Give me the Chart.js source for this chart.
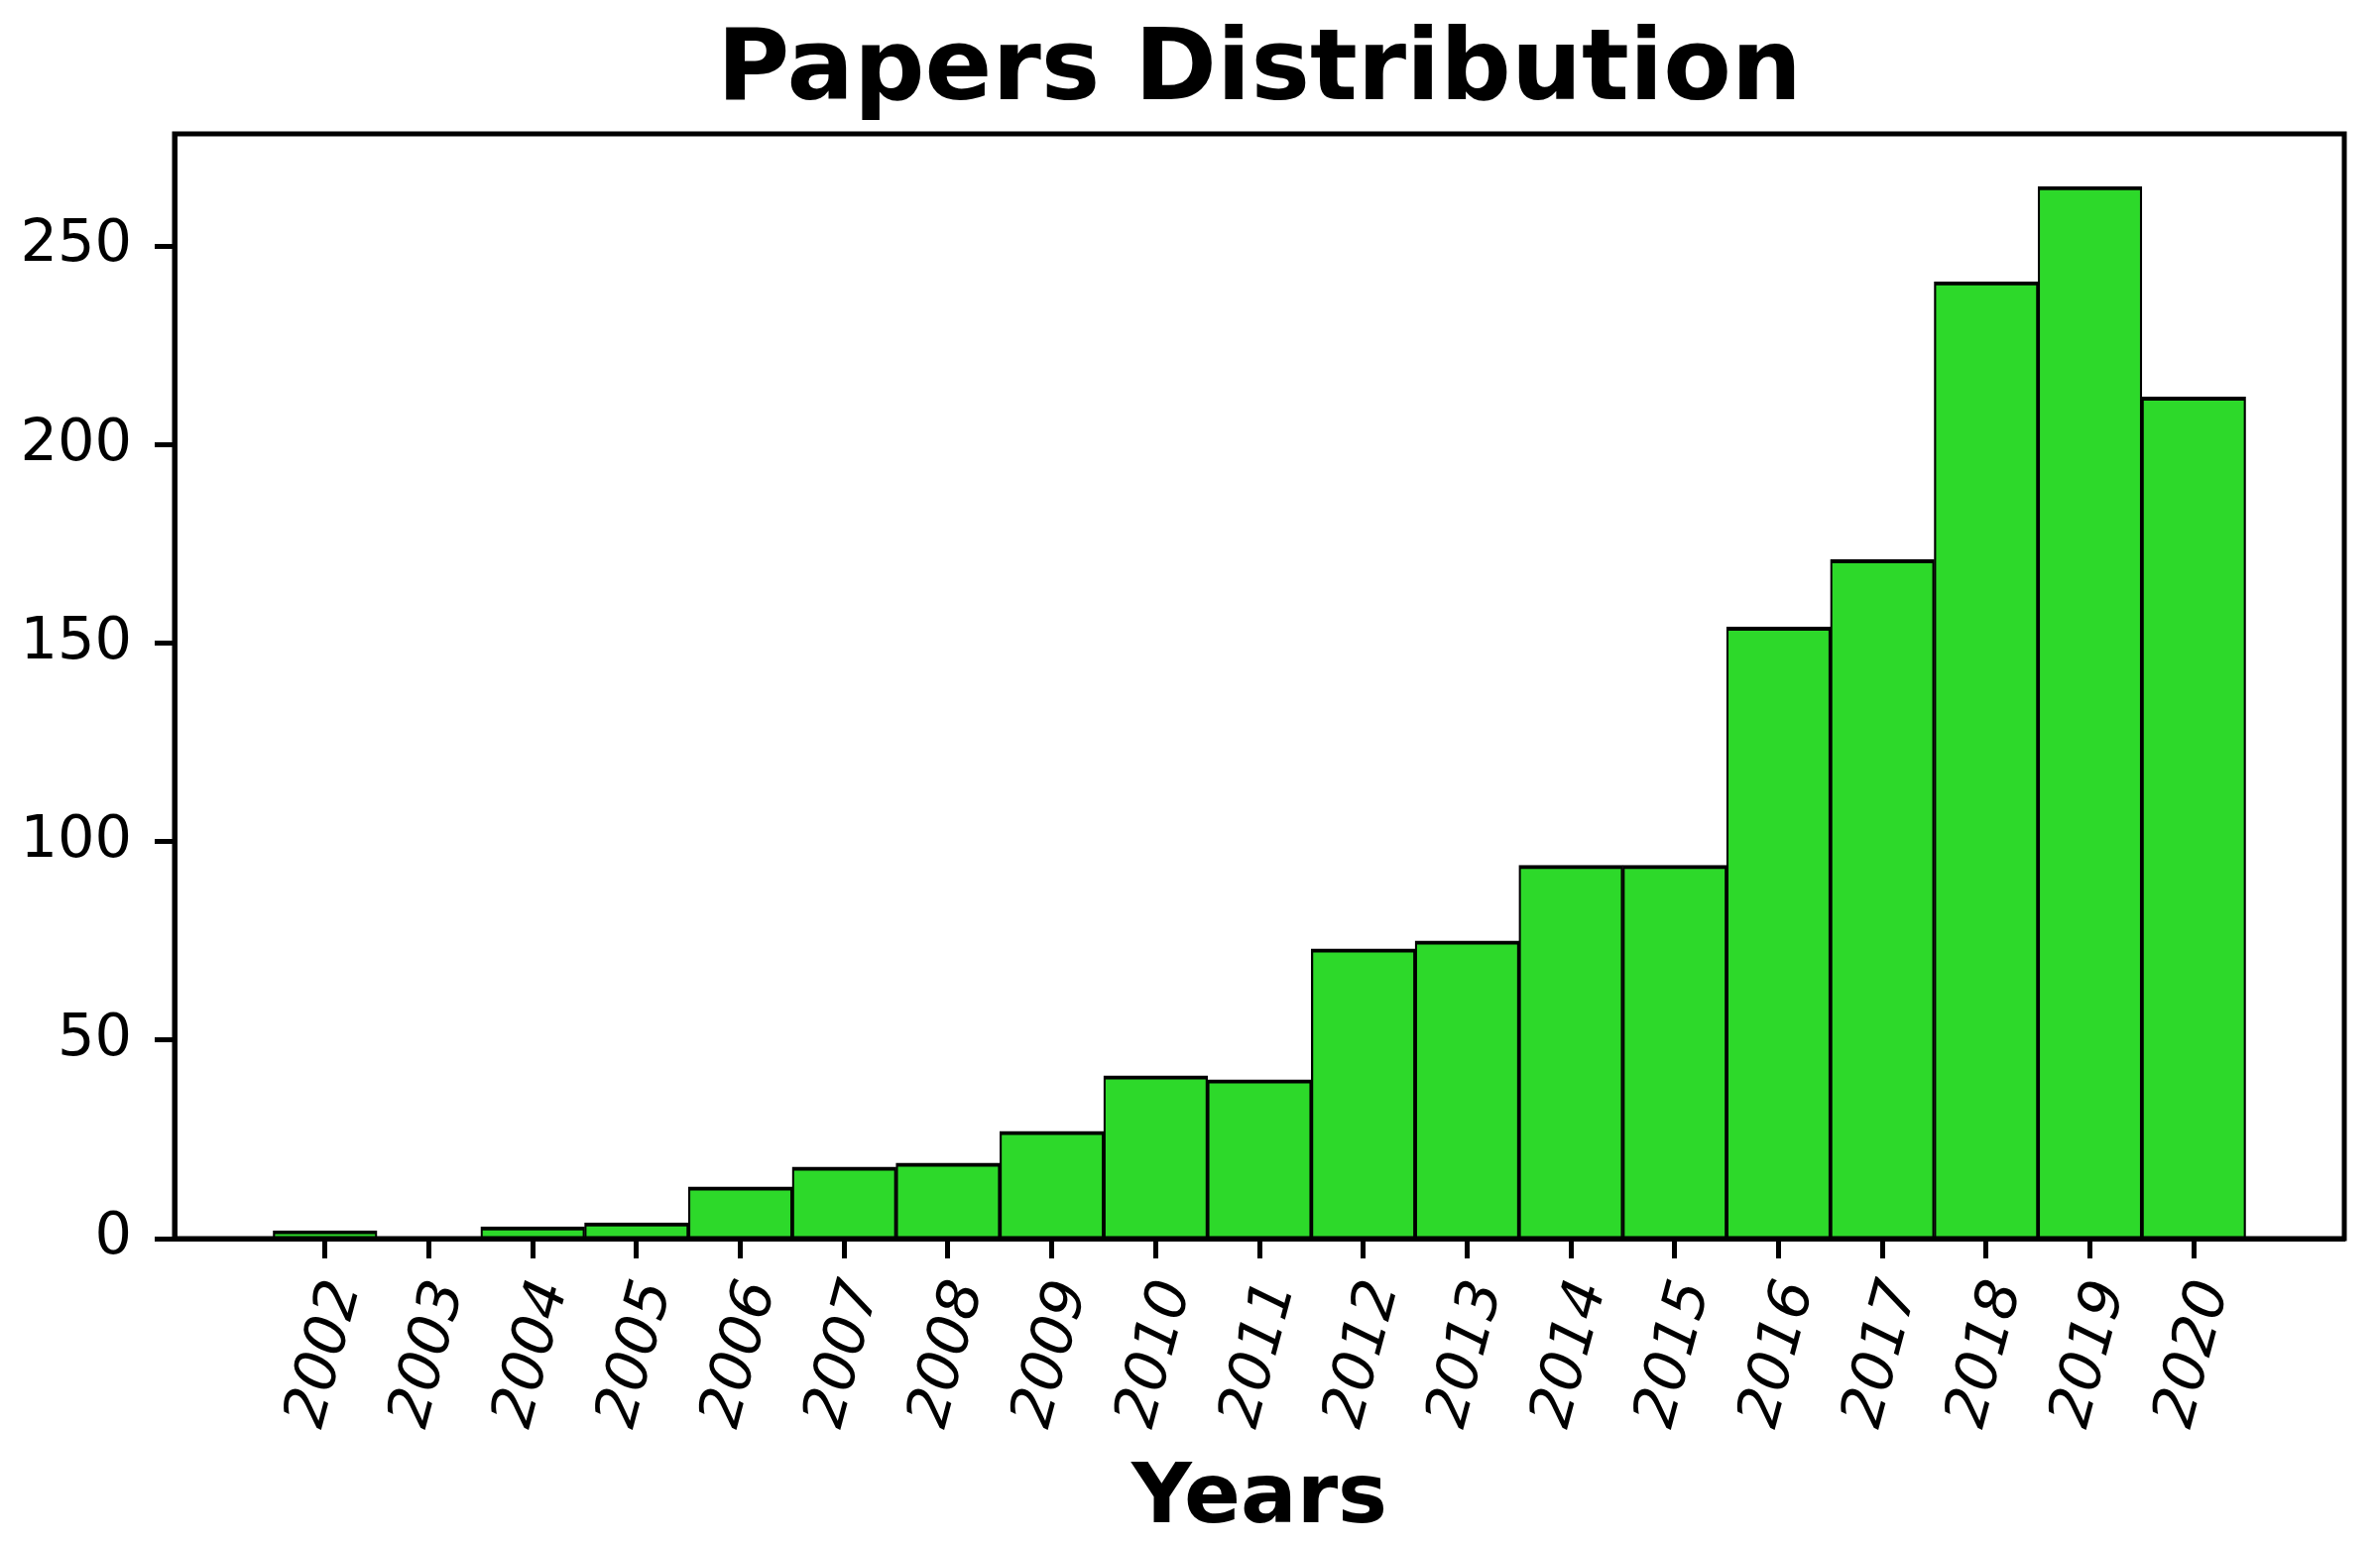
<!DOCTYPE html>
<html>
<head>
<meta charset="utf-8">
<script src="https://cdn.jsdelivr.net/npm/chart.js@4.4.1/dist/chart.umd.min.js"></script>
<style>
  html, body { margin: 0; padding: 0; background: #ffffff; }
  #wrap { width: 2400px; height: 1560px; }
</style>
</head>
<body>
<div id="wrap"><canvas id="c" width="2400" height="1560"></canvas></div>
<script>
const years = [2002, 2003, 2004, 2005, 2006, 2007, 2008, 2009, 2010, 2011, 2012, 2013, 2014, 2015, 2016, 2017, 2018, 2019, 2020];
const papers = [2, 0, 3, 4, 13, 18, 19, 27, 41, 40, 73, 75, 94, 94, 154, 171, 241, 265, 212];
const yTicks = [0, 50, 100, 150, 200, 250];
const titleText = 'Papers Distribution';
const xTitle = 'Years';

const FONT = "'DejaVu Sans', 'Liberation Sans', sans-serif";

const framePlugin = {
  id: 'frameAndTitle',
  afterDraw(chart) {
    const { ctx, chartArea: a } = chart;
    ctx.save();
    ctx.strokeStyle = '#000';
    ctx.lineWidth = 5;
    ctx.strokeRect(a.left, a.top, a.right - a.left, a.bottom - a.top);
    ctx.fillStyle = '#000';
    ctx.font = 'bold 100px ' + FONT;
    ctx.textAlign = 'center';
    ctx.textBaseline = 'alphabetic';
    ctx.fillText(titleText, (a.left + a.right) / 2, 100);
    ctx.restore();
  }
};

new Chart(document.getElementById('c'), {
  type: 'bar',
  data: {
    datasets: [{
      data: years.map((y, i) => ({ x: y, y: papers[i] })),
      backgroundColor: '#2dd92a',
      borderColor: '#000000',
      borderWidth: { left: 2.25, right: 2.25, top: 4, bottom: 0 },
      borderSkipped: false,
      barPercentage: 1.0,
      categoryPercentage: 1.0
    }]
  },
  options: {
    responsive: false,
    animation: false,
    devicePixelRatio: 1,
    layout: { padding: { top: 135, right: 36, left: 0, bottom: 0 } },
    plugins: { legend: { display: false }, tooltip: { enabled: false }, title: { display: false } },
    scales: {
      x: {
        type: 'linear',
        offset: false,
        min: 2000.55,
        max: 2021.45,
        afterBuildTicks(scale) { scale.ticks = years.map(v => ({ value: v })); },
        afterFit(scale) { scale.height = 311; },
        grid: { offset: false, drawOnChartArea: false, drawTicks: true, tickLength: 20, tickWidth: 5, tickColor: '#000' },
        border: { display: true, color: '#000', width: 5 },
        ticks: {
          autoSkip: false,
          minRotation: 75,
          maxRotation: 75,
          padding: 15,
          labelOffset: 20,
          color: '#000',
          font: { family: FONT, size: 59, style: 'italic' },
          callback: (v) => String(v)
        },
        title: {
          display: true,
          text: xTitle,
          color: '#000',
          font: { family: FONT, size: 84, weight: 'bold', lineHeight: 1.0 },
          padding: { top: 0, bottom: 5 }
        }
      },
      y: {
        min: 0,
        max: 278.25,
        afterBuildTicks(scale) { scale.ticks = yTicks.map(v => ({ value: v })); },
        afterFit(scale) { scale.width = 176; },
        grid: { drawOnChartArea: false, drawTicks: true, tickLength: 20, tickWidth: 5, tickColor: '#000' },
        border: { display: true, color: '#000', width: 5 },
        ticks: {
          padding: 23,
          color: '#000',
          font: { family: FONT, size: 59 },
          callback: (v) => String(v)
        }
      }
    }
  },
  plugins: [framePlugin]
});
</script>
</body>
</html>
